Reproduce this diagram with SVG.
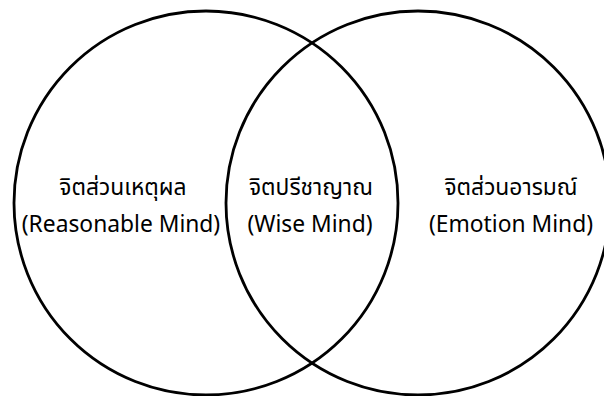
<svg xmlns="http://www.w3.org/2000/svg" width="604" height="396" viewBox="0 0 604 396">
<style>
.c{fill:none;stroke:#000;stroke-width:2.8}
.t{font-family:"Noto Sans","Noto Sans Thai","DejaVu Sans",sans-serif;font-size:22.8px;fill:#000;text-anchor:middle}
</style>
<rect width="604" height="396" fill="#fff"/>
<g id="reasonable-mind">
<circle class="c" cx="206" cy="203" r="192"/>
<text class="t" x="123" y="195">จิตส่วนเหตุผล</text>
<text class="t" x="121" y="232">(Reasonable Mind)</text>
</g>
<g id="emotion-mind">
<circle class="c" cx="418" cy="203" r="192"/>
<text class="t" x="511" y="195">จิตส่วนอารมณ์</text>
<text class="t" x="511" y="232">(Emotion Mind)</text>
</g>
<g id="wise-mind">
<text class="t" x="311" y="195">จิตปรีชาญาณ</text>
<text class="t" x="310" y="232">(Wise Mind)</text>
</g>
<g id="connectors"></g>
</svg>
